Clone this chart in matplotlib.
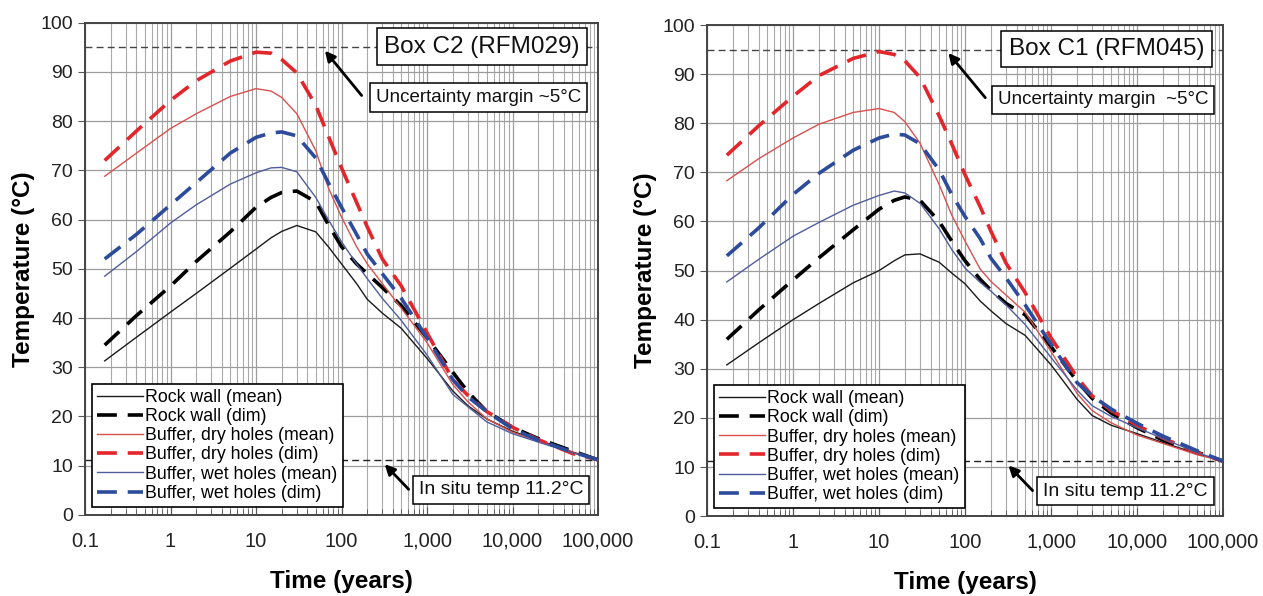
import numpy as np
import matplotlib
matplotlib.use('Agg')
import matplotlib.pyplot as plt
from matplotlib.ticker import LogLocator, NullFormatter

plt.rcParams['font.family'] = ['Liberation Sans', 'DejaVu Sans']

# time axis shared by all curves (years)
time_years = [0.17, 0.4, 1, 2, 5, 10, 15, 20, 30, 50, 70, 100, 150, 200,
              300, 500, 1000, 2000, 3000, 5000, 10000, 20000, 50000, 100000]

# Box C2 (RFM029)
c2_rock_mean = [31.3, 36.1, 41.2, 45.0, 50.1, 54.0, 56.3, 57.6, 58.8, 57.5, 54.5, 51.0,
                47.0, 43.8, 41.0, 37.9, 31.8, 25.2, 22.2, 19.5, 17.0, 15.2, 12.8, 11.2]
c2_rock_dim = [34.5, 40.5, 46.5, 51.5, 57.5, 62.5, 64.5, 65.5, 65.8, 63.6, 59.0, 54.5,
               51.0, 49.0, 46.2, 42.5, 36.0, 29.0, 25.0, 21.0, 17.8, 15.5, 13.0, 11.2]
c2_dry_mean = [68.8, 73.5, 78.5, 81.5, 85.0, 86.6, 86.1, 84.8, 81.5, 74.0, 66.5, 60.5,
               54.5, 51.0, 47.0, 42.0, 35.0, 26.5, 23.0, 19.5, 16.8, 15.0, 12.7, 11.2]
c2_dry_dim = [72.0, 78.0, 84.2, 88.2, 92.2, 94.0, 93.8, 92.5, 89.8, 83.2, 77.0, 70.5,
              63.5, 58.5, 52.0, 46.5, 37.0, 27.5, 24.3, 21.0, 17.8, 15.3, 12.5, 11.2]
c2_wet_mean = [48.5, 53.5, 59.3, 63.0, 67.2, 69.5, 70.5, 70.6, 69.7, 64.5, 60.0, 55.5,
               51.0, 48.0, 44.0, 39.5, 32.5, 24.5, 22.0, 18.9, 16.5, 14.8, 12.6, 11.2]
c2_wet_dim = [52.0, 57.0, 63.0, 67.5, 73.5, 76.7, 77.6, 77.8, 77.0, 72.5, 67.5, 62.5,
              57.0, 53.0, 49.0, 44.0, 36.0, 27.5, 24.0, 21.0, 17.5, 15.2, 12.8, 11.2]

# Box C1 (RFM045)
c1_rock_mean = [30.8, 35.3, 40.0, 43.3, 47.5, 50.0, 52.0, 53.2, 53.4, 51.7, 49.5, 47.3,
                43.8, 41.8, 39.2, 36.8, 30.8, 23.8, 20.5, 18.5, 16.8, 15.0, 12.7, 11.2]
c1_rock_dim = [36.0, 42.0, 48.1, 52.6, 58.3, 62.5, 64.3, 65.0, 64.3, 60.0, 56.0, 52.0,
               48.2, 46.0, 43.3, 41.0, 34.5, 27.5, 24.0, 21.0, 18.0, 15.5, 13.0, 11.2]
c1_dry_mean = [68.3, 72.8, 77.0, 79.8, 82.2, 83.0, 82.2, 80.3, 75.9, 67.5, 61.3, 56.0,
               50.3, 47.8, 45.0, 41.5, 33.5, 25.0, 21.5, 19.0, 16.5, 14.8, 12.5, 11.2]
c1_dry_dim = [73.5, 79.5, 85.5, 89.7, 93.2, 94.6, 94.0, 92.7, 89.3, 81.5, 75.8, 69.5,
              63.0, 58.0, 51.5, 45.5, 36.3, 28.3, 24.5, 21.5, 18.5, 15.9, 12.9, 11.2]
c1_wet_mean = [47.7, 52.3, 57.0, 59.8, 63.3, 65.3, 66.2, 65.8, 63.7, 58.5, 54.3, 50.5,
               47.6, 45.8, 43.0, 39.0, 32.3, 25.7, 22.5, 20.3, 18.0, 15.8, 12.9, 11.2]
c1_wet_dim = [53.0, 58.7, 65.5, 69.8, 74.5, 77.0, 77.8, 77.6, 75.8, 70.5, 65.5, 61.0,
              56.5, 52.5, 48.5, 43.0, 35.0, 27.2, 24.5, 21.8, 18.9, 16.3, 13.3, 11.2]

series_labels = ['Rock wall (mean)', 'Rock wall (dim)',
                 'Buffer, dry holes (mean)', 'Buffer, dry holes (dim)',
                 'Buffer, wet holes (mean)', 'Buffer, wet holes (dim)']

x_ticks = [0.1, 1, 10, 100, 1000, 10000, 100000]
x_tick_labels = ['0.1', '1', '10', '100', '1,000', '10,000', '100,000']
y_ticks = list(range(0, 101, 10))

margin_temp = 95.0
in_situ_temp = 11.2

# colour, linestyle, linewidth per series (same order as labels)
styles = [('#1a1a1a', '-', 1.0),
          ('black', (0, (5.5, 3)), 2.6),
          ('#d8514f', '-', 1.0),
          ('#e3262b', (0, (5.5, 3)), 2.6),
          ('#4f5d9c', '-', 1.0),
          ('#2d4b9b', (0, (5.5, 3)), 2.6)]


def draw_panel(ax, curves, box_label, margin_label):
    ax.set_xscale('log')
    ax.set_xlim(0.1, 100000)
    ax.set_ylim(0, 100)

    # reference lines
    ax.axhline(margin_temp, color='#444444', lw=1.0, ls=(0, (5, 3)), zorder=2)
    ax.axhline(in_situ_temp, color='#222222', lw=1.0, ls=(0, (5, 3)), zorder=2)

    for vals, label, (col, ls, lw) in zip(curves, series_labels, styles):
        ax.plot(time_years, vals, color=col, ls=ls, lw=lw, label=label, zorder=3)

    ax.set_xticks(x_ticks)
    ax.set_xticklabels(x_tick_labels)
    ax.xaxis.set_minor_locator(LogLocator(base=10, subs=np.arange(2, 10)))
    ax.xaxis.set_minor_formatter(NullFormatter())
    ax.set_yticks(y_ticks)

    ax.set_axisbelow(True)
    ax.grid(which='major', color='#9c9c9c', lw=0.9)
    ax.grid(which='minor', axis='x', color='#a9a9a9', lw=0.8)

    ax.tick_params(axis='x', which='major', direction='in', length=6, pad=12,
                   labelsize=14.5, colors='#555555', labelcolor='#222222')
    ax.tick_params(axis='x', which='minor', direction='in', length=4, colors='#555555')
    ax.tick_params(axis='y', direction='out', length=5, labelsize=14,
                   colors='#555555', labelcolor='#222222')
    for sp in ax.spines.values():
        sp.set_color('#444444')
        sp.set_linewidth(1.4)

    ax.set_xlabel('Time (years)', fontsize=17.5, fontweight='bold', labelpad=14)
    ax.set_ylabel('Temperature (°C)', fontsize=17.5, fontweight='bold', labelpad=4)

    box = dict(boxstyle='square,pad=0.3', fc='white', ec='black', lw=1.1)
    ax.text(0.774, 0.951, box_label, transform=ax.transAxes, ha='center', va='center',
            fontsize=17.5, color='#111111', bbox=box, zorder=6)
    ax.text(0.767, 0.848, margin_label, transform=ax.transAxes, ha='center',
            va='center', fontsize=13.5, color='#111111', bbox=box, zorder=6)
    ax.text(0.811, 0.051, 'In situ temp 11.2°C', transform=ax.transAxes, ha='center',
            va='center', fontsize=14, color='#111111', bbox=box, zorder=6)

    arrow = dict(arrowstyle='-|>', color='black', lw=2.0, mutation_scale=15,
                 shrinkA=0, shrinkB=0)
    ax.annotate('', xy=(64, 94.3), xytext=(172, 85.2), arrowprops=arrow, zorder=5)
    ax.annotate('', xy=(320, 10.3), xytext=(610, 5.2), arrowprops=arrow, zorder=5)

    leg = ax.legend(loc='lower left', bbox_to_anchor=(0.013, 0.016), borderaxespad=0,
                    fontsize=12.8, frameon=True, fancybox=False, framealpha=1,
                    edgecolor='black', handlelength=2.6, handletextpad=0.12,
                    labelspacing=0.12, borderpad=0.3)
    leg.get_frame().set_linewidth(1.2)
    leg.set_zorder(7)


fig = plt.figure(figsize=(12.63, 5.96), dpi=100)
ax1 = fig.add_axes([0.0673, 0.136, 0.4062, 0.826])
ax2 = fig.add_axes([0.5598, 0.134, 0.4086, 0.824])

draw_panel(ax1, [c2_rock_mean, c2_rock_dim, c2_dry_mean, c2_dry_dim, c2_wet_mean, c2_wet_dim],
           'Box C2 (RFM029)', 'Uncertainty margin ~5°C')
draw_panel(ax2, [c1_rock_mean, c1_rock_dim, c1_dry_mean, c1_dry_dim, c1_wet_mean, c1_wet_dim],
           'Box C1 (RFM045)', 'Uncertainty margin  ~5°C')

fig.savefig('out.png', dpi=100)
